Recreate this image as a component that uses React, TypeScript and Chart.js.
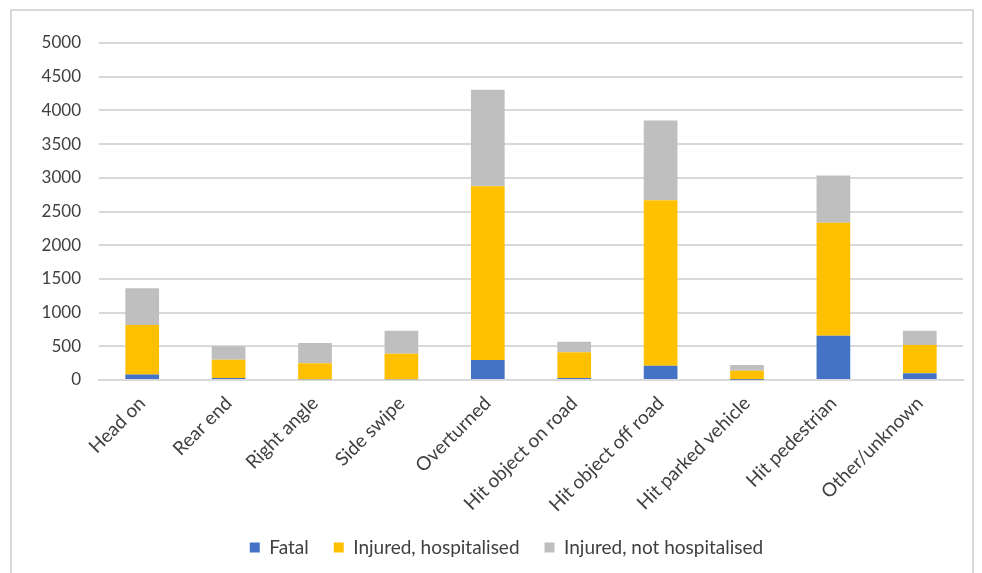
import React, { useEffect, useRef } from "react";
import { Chart, registerables } from "chart.js";

Chart.register(...registerables);

const categories = [
  "Head on",
  "Rear end",
  "Right angle",
  "Side swipe",
  "Overturned",
  "Hit object on road",
  "Hit object off road",
  "Hit parked vehicle",
  "Hit pedestrian",
  "Other/unknown",
];
const fatal = [80, 30, 10, 10, 296, 30, 212, 5, 655, 99];
const injuredHospitalised = [735, 270, 240, 380, 2578, 380, 2455, 133, 1678, 419];
const injuredNotHospitalised = [545, 200, 300, 340, 1431, 157, 1184, 84, 700, 211];
const seriesLabels = ["Fatal", "Injured, hospitalised", "Injured, not hospitalised"];
const colors = ["#4472C4", "#FFC000", "#BFBFBF"];

const shiftLegend = {
  id: "shiftLegend",
  afterLayout(chart: any) {
    const l = chart.legend;
    if (l) {
      l.left += 25;
      l.right += 25;
    }
  },
};

export default function App() {
  const ref = useRef<HTMLCanvasElement | null>(null);
  useEffect(() => {
    if (!ref.current) return;
    const font = "Lato, 'Open Sans', sans-serif";
    const chart = new Chart(ref.current, {
      type: "bar",
      data: {
        labels: categories,
        datasets: [fatal, injuredHospitalised, injuredNotHospitalised].map((d, i) => ({
          label: seriesLabels[i],
          data: d,
          backgroundColor: colors[i],
          borderWidth: 0,
          categoryPercentage: 1,
          barPercentage: 0.39,
        })),
      },
      plugins: [shiftLegend],
      options: {
        responsive: false,
        animation: false,
        maintainAspectRatio: false,
        layout: { padding: { top: 43, right: 19, bottom: 6, left: 0 } },
        plugins: {
          tooltip: { enabled: false },
          legend: {
            position: "bottom",
            labels: {
              boxWidth: 10,
              boxHeight: 10,
              padding: 25,
              color: "#404040",
              font: { family: font, size: 19 },
            },
          },
        },
        scales: {
          x: {
            stacked: true,
            grid: { display: false, drawTicks: false },
            border: { display: true, color: "#D9D9D9", width: 2 },
            ticks: {
              color: "#404040",
              font: { family: font, size: 19 },
              maxRotation: 45,
              minRotation: 45,
              padding: 12,
              autoSkip: false,
            },
            afterFit: (s: any) => {
              s.height = 133;
            },
          },
          y: {
            stacked: true,
            min: 0,
            max: 5000,
            grid: { color: "#D9D9D9", lineWidth: 2, drawTicks: false },
            border: { display: false },
            ticks: {
              stepSize: 500,
              color: "#404040",
              font: { family: font, size: 17 },
              padding: 18,
              callback: (v: any) => String(v),
            },
            afterFit: (s: any) => {
              s.width = 99;
            },
          },
        },
      },
    });
    return () => chart.destroy();
  }, []);
  return (
    <div style={{ position: "fixed", left: 0, top: 0, width: 982, height: 573, background: "#fff", overflow: "hidden" }}>
      <div
        style={{
          position: "absolute",
          left: 10,
          top: 9,
          width: 964,
          height: 600,
          border: "2px solid #D9D9D9",
          boxSizing: "border-box",
        }}
      />
      <canvas ref={ref} width={982} height={573} style={{ position: "absolute", left: 0, top: 0 }} />
    </div>
  );
}
